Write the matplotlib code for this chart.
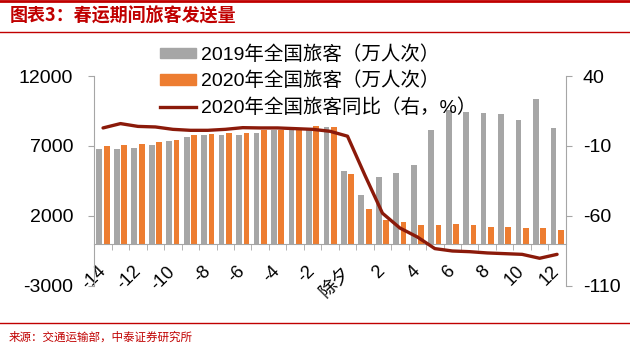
import matplotlib
matplotlib.use("Agg")
import matplotlib.pyplot as plt
import numpy as np
from matplotlib.patches import Patch
from matplotlib.lines import Line2D

plt.rcParams['font.family'] = ['Liberation Sans', 'Noto Sans CJK SC']
plt.rcParams['axes.unicode_minus'] = False

# categories: days relative to 除夕
days = ['-14', '-13', '-12', '-11', '-10', '-9', '-8', '-7', '-6', '-5', '-4', '-3', '-2', '-1',
        '除夕', '1', '2', '3', '4', '5', '6', '7', '8', '9', '10', '11', '12']

# 2019 passengers (万人次)
pax_2019 = [6760, 6760, 6860, 7050, 7380, 7670, 7760, 7760, 7760, 7950, 8120, 8120, 8240, 8330,
            5190, 3480, 4760, 5070, 5670, 8170, 9550, 9430, 9360, 9260, 8830, 10330, 8260]
# 2020 passengers (万人次)
pax_2020 = [6980, 7050, 7170, 7260, 7450, 7760, 7860, 7950, 7950, 8120, 8170, 8240, 8450, 8330,
            4980, 2480, 1690, 1600, 1330, 1330, 1400, 1330, 1210, 1210, 1120, 1120, 1020]
# 2020 yoy (%), right axis
yoy_2020 = [2.9, 6.0, 4.0, 3.6, 1.9, 1.2, 1.2, 1.9, 3.1, 2.9, 2.9, 2.4, 1.9, 0.5,
            -3.0, -31, -58, -68.6, -75, -83.3, -85, -85.5, -86.4, -86.9, -87.4, -90.2, -87.4]

c_gray = '#A6A6A6'
c_orange = '#ED7D31'
c_line = '#8B1A0A'
c_red = '#C00000'
c_axis = '#A6A6A6'

fig = plt.figure(figsize=(6.3, 3.48), dpi=100)
ax = fig.add_axes([0.1497, 0.1782, 0.7484, 0.6034])
ax2 = ax.twinx()

x = np.arange(len(days))
w = 0.33
ax.bar(x - 0.21, pax_2019, width=w, color=c_gray, zorder=2)
ax.bar(x + 0.21, pax_2020, width=w, color=c_orange, zorder=2)
ax2.plot(x, yoy_2020, color=c_line, lw=2.4, solid_joinstyle='round', solid_capstyle='round')

ax.set_xlim(-0.5, len(days) - 0.5)
ax.set_ylim(-3000, 12000)
ax.set_yticks([-3000, 2000, 7000, 12000])
ax2.set_ylim(-110, 40)
ax2.set_yticks([-110, -60, -10, 40])

for a in (ax, ax2):
    for s in a.spines.values():
        s.set_visible(False)
ax.spines['left'].set_visible(True)
ax.spines['left'].set_color(c_axis)
ax.spines['bottom'].set_visible(True)
ax.spines['bottom'].set_color(c_axis)
ax.spines['bottom'].set_position(('data', 0))
ax2.spines['right'].set_visible(True)
ax2.spines['right'].set_color(c_axis)

# x labels every other day, tick marks at category boundaries
ax.set_xticks(x[::2])
ax.set_xticklabels(days[::2], rotation=45, ha='right', va='center', rotation_mode='anchor')
ax.set_xticks(np.arange(-0.5, len(days)), minor=True)
ax.tick_params(axis='x', which='major', length=0, pad=18, labelsize=13)
ax.tick_params(axis='x', which='minor', length=4.3, color=c_axis, direction='out')
ax.tick_params(axis='y', length=4.3, color=c_axis, pad=11, labelsize=14)
ax2.tick_params(axis='y', length=4.3, color=c_axis, pad=8, labelsize=14)

handles = [Patch(color=c_gray), Patch(color=c_orange), Line2D([], [], color=c_line, lw=2.4)]
labels = ['2019年全国旅客（万人次）', '2020年全国旅客（万人次）', '2020年全国旅客同比（右，%）']
fig.legend(handles, labels, loc='upper left', bbox_to_anchor=(0.254, 0.87), frameon=False,
           fontsize=14, handlelength=1.85, handleheight=0.46, handletextpad=0.25,
           labelspacing=0.4, borderpad=0, borderaxespad=0)

# header / footer
fig.add_artist(Line2D([0, 1], [0.996, 0.996], color=c_red, lw=2))
fig.add_artist(Line2D([0, 1], [1 - 32 / 348, 1 - 32 / 348], color=c_red, lw=1))
fig.add_artist(Line2D([0, 1], [1 - 323 / 348, 1 - 323 / 348], color=c_red, lw=1))
fig.text(10 / 630, 1 - 16 / 348, '图表3：春运期间旅客发送量', color=c_red, fontsize=13,
         fontweight='bold', style='italic', va='center', ha='left',
         family=['Noto Sans CJK SC'])
fig.text(9 / 630, 1 - 337 / 348, '来源：交通运输部，中泰证券研究所', color=c_red, fontsize=8.3,
         va='center', ha='left', family=['Noto Sans CJK SC'])

fig.savefig('out.png', dpi=100)
